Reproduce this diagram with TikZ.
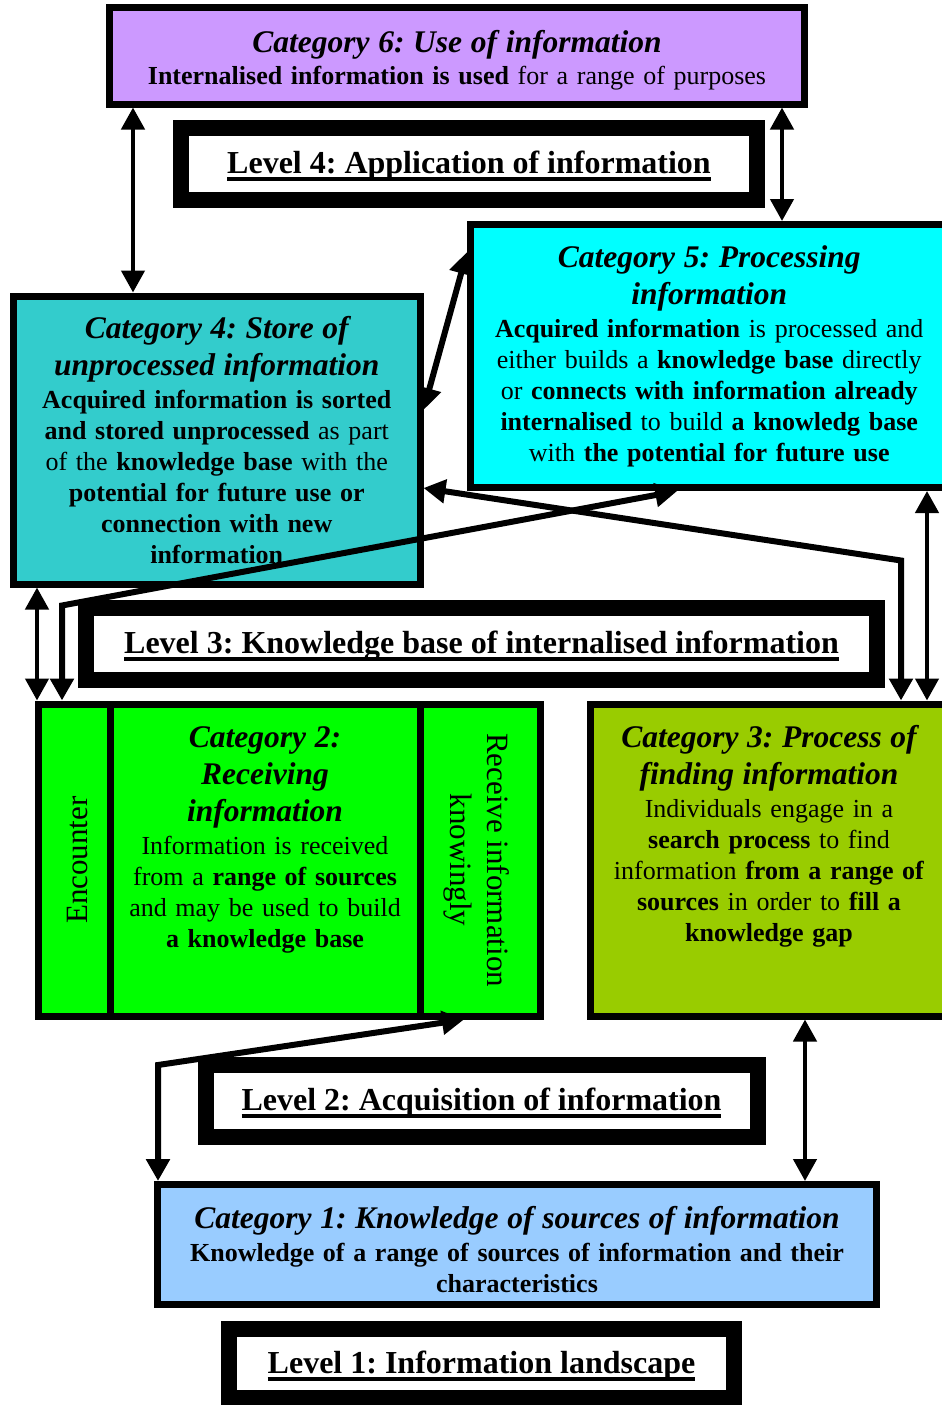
\documentclass[tikz,border=0pt]{standalone}
\usepackage{fontspec}
\setmainfont{Liberation Serif}
\usetikzlibrary{arrows.meta,positioning}
\definecolor{catsix}{HTML}{CC99FF}
\definecolor{catfive}{HTML}{00FFFF}
\definecolor{catfour}{HTML}{33CCCC}
\definecolor{cattwo}{HTML}{00FF00}
\definecolor{catthree}{HTML}{99CC00}
\definecolor{catone}{HTML}{99CCFF}
\frenchspacing
\newcommand{\cattitle}[1]{{\fontsize{31.5}{31}\selectfont\bfseries\itshape #1}}
\newcommand{\lvlul}[1]{\setbox0\hbox{#1}\rlap{\rule[-7.5pt]{\wd0}{4pt}}\box0}

\begin{document}
\begin{tikzpicture}[x=1pt, y=-1pt,
    box/.style={draw, line width=7pt, inner sep=0pt, align=center, font=\fontsize{26}{31}\selectfont},
    level/.style={draw, line width=16pt, fill=white, inner sep=0pt, text height=26.5pt, text depth=7.5pt, font=\fontsize{32}{37}\selectfont\bfseries},
    txt/.style={inner sep=0pt, align=center, font=\fontsize{26}{31}\selectfont},
    vtext/.style={inner sep=0pt, align=center, font=\fontsize{31}{37}\selectfont},
    link/.style={<->, line width=4.5pt},
    bent/.style={<->, line width=6pt},
    >={Triangle[width=23pt,length=22pt]}]
    \useasboundingbox (0,0) rectangle (942,1405);
    \clip (0,0) rectangle (942,1405);

    % categories
    \node[box, fill=catsix, minimum width=695pt, minimum height=96pt] (cat6) at (457,56) {};
    \node[box, fill=catfive, minimum width=477.5pt, minimum height=263pt, text width=460pt] (cat5) at (709.25,356)
        {\cattitle{Category 5: Processing}\\[6pt]
         \cattitle{information}\\[2pt]
         \textbf{Acquired information} is processed and\\
         either builds a \textbf{knowledge base} directly\\
         or \textbf{connects with information already}\\
         \textbf{internalised} to build \textbf{a knowledg base}\\
         with \textbf{the potential for future use}};
    \node[box, fill=catfour, minimum width=406.5pt, minimum height=288pt, text width=395pt] (cat4) at (216.75,440)
        {\cattitle{Category 4: Store of}\\[6pt]
         \cattitle{unprocessed information}\\[2pt]
         \textbf{Acquired information is sorted}\\
         \textbf{and stored unprocessed} as part\\
         of the \textbf{knowledge base} with the\\
         \textbf{potential for future use or}\\
         \textbf{connection with new}\\
         \textbf{information}};
    \node[box, fill=cattwo, minimum width=72pt, minimum height=312pt] (enc) at (74,860) {};
    \node[box, fill=cattwo, minimum width=310pt, minimum height=312pt] (cat2) at (265,860) {};
    \node[box, fill=cattwo, minimum width=120pt, minimum height=312pt] (recv) at (480,860) {};
    \node[box, fill=catthree, minimum width=358pt, minimum height=312pt] (cat3) at (769,860) {};
    \node[box, fill=catone, minimum width=719pt, minimum height=120pt] (cat1) at (517,1244.5) {};

    % texts
    \node[txt, text width=680pt] (t6) at ([yshift=-4pt]cat6.center)
        {\cattitle{Category 6: Use of information}\\[1pt]
         \textbf{Internalised information is used} for a range of purposes};
    \node[txt, text width=700pt] (t1) at ([yshift=-5pt]cat1.center)
        {\cattitle{Category 1: Knowledge of sources of information}\\[2pt]
         \textbf{Knowledge of a range of sources of information and their}\\
         \textbf{characteristics}};
    \node[vtext, rotate=90] (tenc) at ([xshift=4pt]enc.center) {Encounter};
    \node[vtext, rotate=-90] (trecv) at ([xshift=-3pt]recv.center) {Receive information\\knowingly};
    \node[txt, text width=300pt, below=26pt of cat2.north] (t2)
        {\cattitle{Category 2:}\\[6pt]
         \cattitle{Receiving}\\[6pt]
         \cattitle{information}\\[2pt]
         Information is received\\
         from a \textbf{range of sources}\\
         and may be used to build\\
         \textbf{a knowledge base}};
    \node[txt, text width=350pt, below=25pt of cat3.north] (t3)
        {\cattitle{Category 3: Process of}\\[6pt]
         \cattitle{finding information}\\[2pt]
         Individuals engage in a\\
         \textbf{search process} to find\\
         information \textbf{from a range of}\\
         \textbf{sources} in order to \textbf{fill a}\\
         \textbf{knowledge gap}};

    % levels
    \node[level, minimum width=576pt, minimum height=72pt] (lvl4) at (469,164) {\lvlul{Level 4: Application of information}};
    \node[level, minimum width=791pt, minimum height=72pt] (lvl3) at (481.5,644) {\lvlul{Level 3: Knowledge base of internalised information}};
    \node[level, minimum width=552pt, minimum height=72pt] (lvl2) at (481.5,1100.5) {\lvlul{Level 2: Acquisition of information}};
    \node[level, minimum width=505pt, minimum height=69pt] (lvl1) at (481.5,1363.5) {\lvlul{Level 1: Information landscape}};

    % connectors
    \coordinate (p1) at ([xshift=123pt]cat4.north west);
    \coordinate (p2) at ([xshift=315pt]cat5.north west);
    \coordinate (p4) at ([xshift=314.5pt]cat3.north west);
    \coordinate (b4) at ([yshift=140pt]p4);
    \coordinate (p5) at ([xshift=-12pt]enc.north);
    \coordinate (b5) at ([yshift=95pt]p5);
    \coordinate (p6) at ([xshift=27pt]cat4.south west);
    \coordinate (p7) at ([xshift=340.5pt]cat3.north west);
    \coordinate (p8) at ([xshift=4pt]cat1.north west);
    \coordinate (b8) at ([yshift=116pt]p8);
    \coordinate (p9) at ([xshift=651pt]cat1.north west);

    \draw[link] (p1 |- cat6.south) -- (p1);
    \draw[link] (p2 |- cat6.south) -- (p2);
    \draw[bent] ([yshift=30pt]cat4.east) -- ([yshift=104pt]cat5.west);
    \draw[bent] ([yshift=-48pt]cat4.east) -- (b4) -- (p4);
    \draw[bent] (p5) -- (b5) -- ([xshift=-32pt]cat5.south);
    \draw[link] (p6) -- (p6 |- enc.north);
    \draw[link] (p7 |- cat5.south) -- (p7);
    \draw[bent] (p8) -- (b8) -- ([xshift=-16pt]recv.south);
    \draw[link] (p9 |- cat3.south) -- (p9);
\end{tikzpicture}
\end{document}
